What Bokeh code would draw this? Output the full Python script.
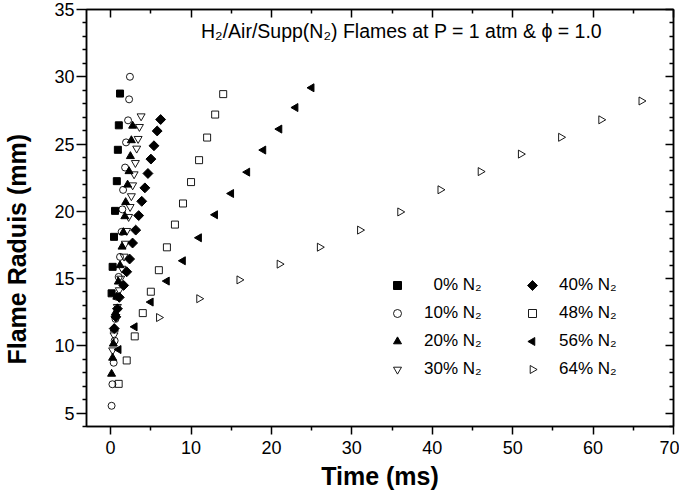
import math
from bokeh.plotting import figure
from bokeh.models import (Range1d, LinearAxis, FixedTicker, Legend, LegendItem, Label,
                          PolyAnnotation)
from bokeh.embed import file_html
from bokeh.resources import INLINE

# ---- data (time in ms, flame radius in mm) ----
t_0 = [0.12, 0.25, 0.42, 0.55, 0.77, 0.90, 1.02, 1.17]
r_0 = [13.9, 15.87, 18.1, 20.03, 22.24, 24.57, 26.39, 28.75]

t_10 = [0.12, 0.22, 0.38, 0.50, 0.60, 0.77, 1.00, 1.17, 1.37, 1.46, 1.55, 1.80, 1.92, 2.17, 2.30, 2.40]
r_10 = [5.54, 7.14, 8.74, 10.38, 12.0, 13.64, 15.12, 16.61, 18.47, 20.14, 21.59, 23.25, 25.12, 26.76, 28.32, 30.0]

t_20 = [0.12, 0.25, 0.34, 0.46, 0.59, 0.77, 0.96, 1.17, 1.42, 1.58, 1.77, 1.87, 2.11, 2.29, 2.46, 2.58, 2.74]
r_20 = [7.91, 9.1, 10.15, 11.26, 12.45, 13.64, 14.76, 15.98, 17.36, 18.44, 19.62, 20.67, 21.97, 22.97, 24.09, 25.27, 26.35]

t_30 = [0.25, 0.42, 0.67, 0.84, 1.08, 1.25, 1.42, 1.67, 1.83, 2.00, 2.24, 2.42, 2.58, 2.74, 2.92, 3.08, 3.24, 3.42, 3.58, 3.79]
r_30 = [9.67, 10.79, 12.15, 12.9, 14.14, 15.0, 15.74, 16.64, 17.6, 18.55, 19.59, 20.33, 21.13, 21.94, 22.76, 23.6, 24.67, 25.39, 26.28, 27.07]

t_40 = [0.45, 0.65, 0.85, 1.08, 1.62, 2.0, 2.36, 2.73, 3.12, 3.49, 3.87, 4.26, 4.64, 5.01, 5.39, 5.79, 6.22]
r_40 = [11.28, 12.15, 12.75, 13.6, 14.49, 15.5, 16.45, 17.64, 18.6, 19.68, 20.74, 21.74, 22.81, 23.88, 24.87, 25.97, 26.82]

t_48 = [1, 2, 3, 4, 5, 6, 7, 8, 9, 10, 11, 12, 13, 14]
r_48 = [7.17, 8.91, 10.70, 12.43, 14.02, 15.62, 17.32, 19.01, 20.58, 22.17, 23.8, 25.48, 27.19, 28.71]

t_56 = [1, 3, 5, 7, 9, 11, 13, 15, 17, 19, 21, 23, 25]
r_56 = [9.72, 11.41, 13.25, 14.81, 16.32, 18.03, 19.74, 21.32, 22.91, 24.55, 26.11, 27.71, 29.18]

t_64 = [6, 11, 16, 21, 26, 31, 36, 41, 46, 51, 56, 61, 66]
r_64 = [12.1, 13.5, 14.9, 16.07, 17.33, 18.6, 19.95, 21.6, 22.95, 24.25, 25.5, 26.8, 28.2]

labels = ["\u20070% N\u2082", "10% N\u2082", "20% N\u2082", "30% N\u2082",
          "40% N\u2082", "48% N\u2082", "56% N\u2082", "64% N\u2082"]

x_ticks = [0, 10, 20, 30, 40, 50, 60, 70]
x_minor = [-5, 5, 15, 25, 35, 45, 55, 65]
y_ticks = [5, 10, 15, 20, 25, 30, 35]
y_minor = [v for v in range(4, 36) if v % 5 != 0]

FONT = "Liberation Sans"

p = figure(output_backend="svg", toolbar_location=None,
           x_range=Range1d(-3, 70), y_range=Range1d(4, 35),
           frame_width=587, frame_height=417,
           min_border_left=79, min_border_top=9, min_border_right=6, min_border_bottom=10,
           x_axis_label="Time (ms)",
           y_axis_label="Flame Raduis (mm)" + "\u00a0" * 9)
p.grid.visible = False
p.outline_line_color = "black"
p.outline_line_width = 1.5
p.background_fill_color = "white"
p.border_fill_color = "white"

xt = FixedTicker(ticks=x_ticks, minor_ticks=x_minor)
yt = FixedTicker(ticks=y_ticks, minor_ticks=y_minor)

for ax, tk in ((p.xaxis[0], xt), (p.yaxis[0], yt)):
    ax.ticker = tk
    ax.axis_line_width = 1.5
    ax.major_tick_line_width = 1.5
    ax.minor_tick_line_width = 1.5
    ax.major_tick_out = 8
    ax.major_tick_in = 0
    ax.minor_tick_out = 4
    ax.minor_tick_in = 0
    ax.major_label_text_font = FONT
    ax.major_label_text_font_size = "18px"
    ax.major_label_text_color = "black"
    ax.axis_label_text_font = FONT
    ax.axis_label_text_font_style = "bold"
    ax.axis_label_text_font_size = "25px"
    ax.axis_label_text_color = "black"
p.yaxis[0].major_tick_out = 10
p.xaxis[0].major_label_standoff = 6
p.xaxis[0].axis_label_standoff = 5
p.yaxis[0].major_label_standoff = 2
p.yaxis[0].axis_label_standoff = 20

for loc, tk, vals in (("above", xt, x_ticks), ("right", yt, y_ticks)):
    ax = LinearAxis(ticker=tk, axis_line_width=1.5, major_tick_line_width=1.5,
                    minor_tick_line_width=1.5, major_tick_in=8, major_tick_out=0,
                    minor_tick_in=4, minor_tick_out=0,
                    major_label_overrides={v: "" for v in vals},
                    major_label_standoff=0)
    p.add_layout(ax, loc)

common_open = dict(fill_color=None, line_color="black", line_width=0.9)
common_fill = dict(fill_color="black", line_color="black")
r0 = p.scatter(t_0, r_0, marker="square", size=7, **common_fill)
r1 = p.scatter(t_10, r_10, marker="circle", size=7, **common_open)
r2 = p.scatter(t_20, r_20, marker="triangle", size=8, **common_fill)
r3 = p.scatter(t_30, r_30, marker="inverted_triangle", size=8, **common_open)
r4 = p.scatter(t_40, r_40, marker="square", size=7, angle=math.pi / 4, **common_fill)
r5 = p.scatter(t_48, r_48, marker="square", size=7, **common_open)
r6 = p.scatter(t_56, r_56, marker="triangle", size=8, angle=math.pi / 2, **common_fill)
r7 = p.scatter(t_64, r_64, marker="triangle", size=8, angle=-math.pi / 2, **common_open)

# legend keys for rotated markers are drawn separately (legends never rotate glyphs)
blank = p.scatter([], [], marker="square", fill_alpha=0, line_alpha=0)

rends = [r0, r1, r2, r3, blank, r5, blank, blank]

LEG_Y = 45
LEG_X = (301, 436)
ROW_H, SP = 24, 4

def make_legend(items, loc):
    return Legend(items=items, location=loc, orientation="vertical",
                  padding=0, margin=0, spacing=SP, glyph_width=20, glyph_height=ROW_H,
                  label_height=ROW_H, label_standoff=17,
                  label_text_font=FONT, label_text_font_size="17px",
                  label_text_color="black",
                  border_line_color=None, background_fill_alpha=0)

lg1 = make_legend([LegendItem(label=labels[i], renderers=[rends[i]]) for i in range(4)], (LEG_X[0], LEG_Y))
lg2 = make_legend([LegendItem(label=labels[i], renderers=[rends[i]]) for i in range(4, 8)], (LEG_X[1], LEG_Y))
p.add_layout(lg1)
p.add_layout(lg2)

leg_h = 4 * ROW_H + 3 * SP
cx = LEG_X[1] + 10

def key_center(row):
    return LEG_Y + leg_h - ROW_H / 2 - row * (ROW_H + SP)

def add_key(xs, ys, filled):
    p.add_layout(PolyAnnotation(xs=xs, ys=ys, xs_units="screen", ys_units="screen",
                                fill_color="black", fill_alpha=1.0 if filled else 0.0,
                                line_color="black", line_alpha=1.0, line_width=0.9))

# 40 %: diamond
cy = key_center(0)
add_key([cx - 5, cx, cx + 5, cx], [cy, cy + 5, cy, cy - 5], True)
# 56 % / 64 %: left / right triangles
tip, base, half = 4.62, 2.31, 4.0
for row, direction, filled in ((2, -1, True), (3, 1, False)):
    cy = key_center(row)
    add_key([cx + direction * tip, cx - direction * base, cx - direction * base],
            [cy, cy + half, cy - half], filled)

title = Label(x=315, y=396, x_units="screen", y_units="screen",
              text="H\u2082/Air/Supp(N\u2082) Flames at P = 1 atm & \u03d5 = 1.0",
              text_align="center", text_baseline="alphabetic",
              text_font=FONT, text_font_size="19.5px", text_color="black")
p.add_layout(title)

open("out.html", "w").write(file_html(p, INLINE))
